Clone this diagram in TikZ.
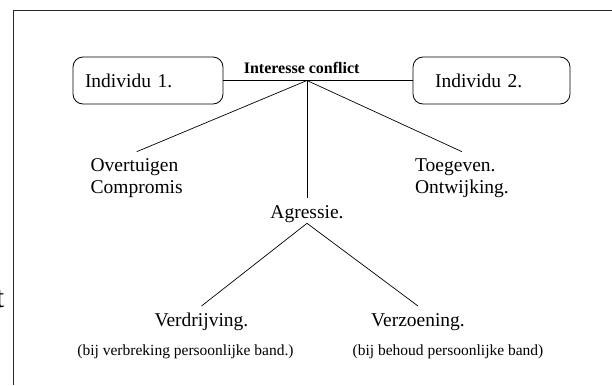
\documentclass[tikz,border=0pt]{standalone}
\usepackage{fontspec}
\setmainfont{Liberation Serif}
\tikzset{
  indbox/.style={draw,line width=0.8pt,rounded corners=10pt,minimum height=47pt,
    align=left,font=\fontsize{19.5}{21.5}\selectfont},
  lbl/.style={font=\fontsize{19.5}{21.5}\selectfont,align=left,inner xsep=0pt,inner ysep=7pt},
  note/.style={font=\fontsize{15.5}{17}\selectfont,inner sep=0pt,anchor=base},
}
\begin{document}
\begin{tikzpicture}[x=1pt,y=-1pt,line width=0.7pt]
    \useasboundingbox (0,0) rectangle (612,385);

    % frame and cut-off letter at the left edge
    \draw[line width=0.9pt,black!85] (13.5,385) -- (13.5,10.5) -- (612,10.5);
    \node[font=\fontsize{30}{30}\selectfont,anchor=base east,inner sep=0pt] (cut) at (4.5,307.5) {t};

    \node[indbox,inner xsep=12pt,text width=126pt] (ind1) at (148,80.5) {Individu 1.};
    \node[indbox,inner xsep=22pt,text width=113pt] (ind2) at (491.5,80.5) {Individu 2.};
    \node[font=\fontsize{16}{18}\selectfont\bfseries,inner sep=0pt,anchor=base] (conf) at (301.7,73.3) {Interesse conflict};
    \draw (ind1.east) -- (ind2.west);
    \coordinate (jn) at (307,80.5);

    \node[lbl,anchor=north] (over) at (136.7,151.7) {Overtuigen\\Compromis};
    \node[lbl,anchor=north] (toeg) at (462,151.7) {Toegeven.\\Ontwijking.};
    \node[lbl,anchor=north,inner ysep=0pt] (agr) at (307,205.5) {Agressie.};
    \draw (jn) -- (over.north);
    \draw (jn) -- (toeg.north);
    \draw[shorten >=7.5pt] (jn) -- (agr.north);

    \node[lbl,anchor=north] (verd) at (201.5,306) {Verdrijving.};
    \node[lbl,anchor=north] (verz) at (418,306) {Verzoening.};
    \draw (agr.south) -- (verd.north);
    \draw (agr.south) -- (verz.north);

    \node[note] (bverd) at (185.5,355) {(bij verbreking persoonlijke band.)};
    \node[note] (bverz) at (448,355) {(bij behoud persoonlijke band)};
\end{tikzpicture}
\end{document}
